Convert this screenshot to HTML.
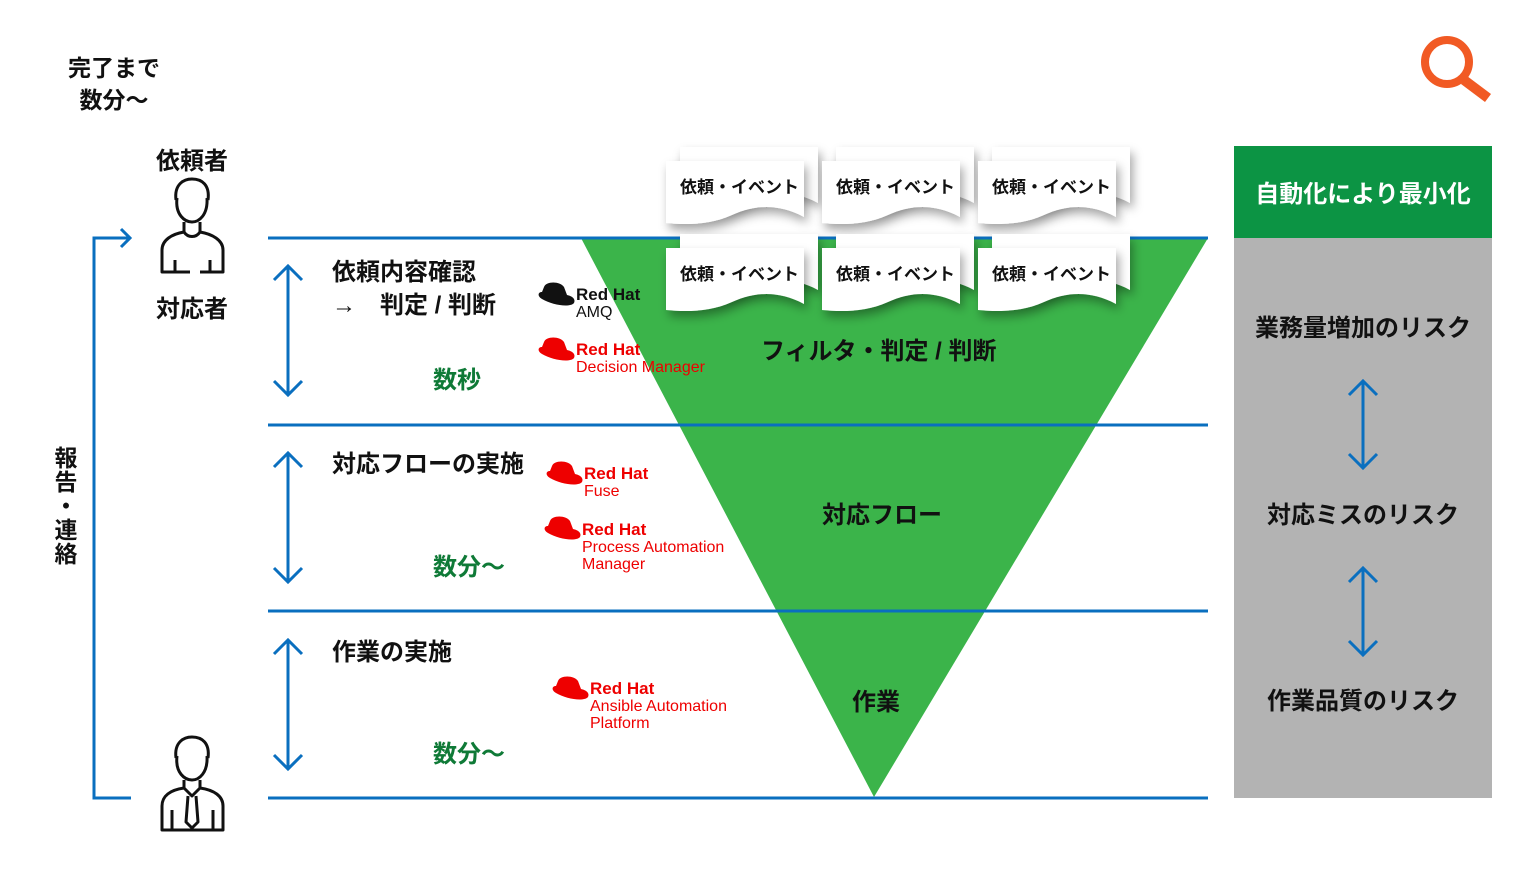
<!DOCTYPE html>
<html><head><meta charset="utf-8"><style>
body{margin:0;width:1522px;height:876px;background:#fff;overflow:hidden;position:relative;font-family:"Liberation Sans","Noto Sans CJK JP",sans-serif}
.t{position:absolute;font-weight:bold;color:#111;white-space:nowrap;font-family:"Liberation Sans","Noto Sans CJK JP",sans-serif}
.g{color:#0f7a37}
.rh{position:absolute;color:#e00;font-size:16px;line-height:17px;white-space:nowrap}
.rh b{font-size:17px}
</style></head><body>
<svg width="1522" height="876" style="position:absolute;left:0;top:0">
<defs>
<filter id="sh" x="-20%" y="-20%" width="150%" height="160%"><feDropShadow dx="3" dy="6" stdDeviation="5" flood-color="#000" flood-opacity="0.35"/></filter>
<g id="doc"><path d="M0,0 H138 V56 C112,42 88,44 66,54 C44,64 20,64 0,62 Z" fill="#fff" filter="url(#sh)"/></g>
<g id="hat"><path d="M6,4 C8,-2 22,-2 26,4 L29,12 C34,13 38,16 36,20 C32,25 14,22 4,16 C-1,13 0,9 4,9 Z"/></g>
</defs>
<rect x="1234" y="146" width="258" height="92" fill="#0c9444"/>
<rect x="1234" y="238" width="258" height="560" fill="#b3b3b3"/>
<polygon points="581,238 1208,238 874,797" fill="#3bb44a"/>
<g stroke="#0a6fbf" stroke-width="3" fill="none">
<line x1="268" y1="238" x2="1208" y2="238"/>
<line x1="268" y1="425" x2="1208" y2="425"/>
<line x1="268" y1="611" x2="1208" y2="611"/>
<line x1="268" y1="798" x2="1208" y2="798"/>
<polyline points="131,798 94,798 94,238 130,238"/>
<polyline points="121,229 130,238 121,247"/>
<line x1="288" y1="266" x2="288" y2="395"/><polyline points="274,280 288,266 302,280"/><polyline points="274,381 288,395 302,381"/>
<line x1="288" y1="453" x2="288" y2="582"/><polyline points="274,467 288,453 302,467"/><polyline points="274,568 288,582 302,568"/>
<line x1="288" y1="640" x2="288" y2="769"/><polyline points="274,654 288,640 302,654"/><polyline points="274,755 288,769 302,755"/>
<line x1="1363" y1="381" x2="1363" y2="468"/><polyline points="1349,395 1363,381 1377,395"/><polyline points="1349,454 1363,468 1377,454"/>
<line x1="1363" y1="568" x2="1363" y2="655"/><polyline points="1349,582 1363,568 1377,582"/><polyline points="1349,641 1363,655 1377,641"/>
</g>
<circle cx="1447" cy="62" r="22" stroke="#f15a24" stroke-width="8" fill="none"/>
<line x1="1464" y1="80" x2="1488" y2="98" stroke="#f15a24" stroke-width="10"/>
<g stroke="#111" stroke-width="3" fill="none" stroke-linejoin="round">
<path d="M176,200 C174,184 184,179 192,179 C202,179 210,185 208,200"/>
<path d="M177,198 C175,215 185,222 192,222 C199,222 208,215 207,198"/>
<path d="M184,222 V232 M200,222 V232"/>
<path d="M184,232 C172,234 162,240 162,250 V272 H190 M200,272 H223 V250 C223,240 212,234 200,232"/>
<path d="M184,232 C188,238 196,238 200,232"/>
<path d="M175,260 V272 M210,260 V272"/>
<path d="M176,758 C174,742 184,737 192,737 C202,737 210,743 208,758"/>
<path d="M177,756 C175,773 185,780 192,780 C199,780 208,773 207,756"/>
<path d="M184,780 V788 M200,780 V788"/>
<path d="M184,788 C170,790 162,796 162,806 V830 H223 V806 C223,796 214,790 200,788"/>
<path d="M184,788 L192,796 L200,788 M188,796 L186,822 L192,828 L198,822 L196,796"/>
<path d="M172,810 V830 M213,810 V830"/>
</g>
<g>
<use href="#doc" x="680" y="147"/><use href="#doc" x="666" y="161"/>
<use href="#doc" x="836" y="147"/><use href="#doc" x="822" y="161"/>
<use href="#doc" x="992" y="147"/><use href="#doc" x="978" y="161"/>
<use href="#doc" x="680" y="234"/><use href="#doc" x="666" y="248"/>
<use href="#doc" x="836" y="234"/><use href="#doc" x="822" y="248"/>
<use href="#doc" x="992" y="234"/><use href="#doc" x="978" y="248"/>
</g>
<g font-family="Liberation Sans,Noto Sans CJK JP,sans-serif" font-weight="bold" font-size="17" fill="#111">
<text x="680" y="193">依頼・イベント</text><text x="836" y="193">依頼・イベント</text><text x="992" y="193">依頼・イベント</text>
<text x="680" y="280">依頼・イベント</text><text x="836" y="280">依頼・イベント</text><text x="992" y="280">依頼・イベント</text>
</g>
<use href="#hat" x="538" y="283" fill="#111"/>
<use href="#hat" x="538" y="338" fill="#e00"/>
<use href="#hat" x="546" y="462" fill="#e00"/>
<use href="#hat" x="544" y="517" fill="#e00"/>
<use href="#hat" x="552" y="677" fill="#e00"/>
</svg>
<div class="t" style="left:68px;top:52px;font-size:23px;line-height:32px;text-align:center">完了まで<br>数分～</div>
<div class="t" style="left:156px;top:141px;font-size:24px">依頼者</div>
<div class="t" style="left:156px;top:289px;font-size:24px">対応者</div>
<div class="t" style="left:54px;top:446px;font-size:23px;width:24px;line-height:24px;text-align:center">報<br>告<br>・<br>連<br>絡</div>
<div class="t" style="left:332px;top:256px;font-size:24px;line-height:33px">依頼内容確認<br>→　判定 / 判断</div>
<div class="t g" style="left:433px;top:360px;font-size:24px">数秒</div>
<div class="t" style="left:332px;top:444px;font-size:24px">対応フローの実施</div>
<div class="t g" style="left:433px;top:547px;font-size:24px">数分～</div>
<div class="t" style="left:332px;top:632px;font-size:24px">作業の実施</div>
<div class="t g" style="left:433px;top:734px;font-size:24px">数分～</div>
<div class="rh" style="left:576px;top:286px;color:#111"><b>Red Hat</b><br>AMQ</div>
<div class="rh" style="left:576px;top:341px"><b>Red Hat</b><br>Decision Manager</div>
<div class="rh" style="left:584px;top:465px"><b>Red Hat</b><br>Fuse</div>
<div class="rh" style="left:582px;top:521px"><b>Red Hat</b><br>Process Automation<br>Manager</div>
<div class="rh" style="left:590px;top:680px"><b>Red Hat</b><br>Ansible Automation<br>Platform</div>
<div class="t" style="left:761px;top:331px;font-size:24px">フィルタ・判定 / 判断</div>
<div class="t" style="left:822px;top:495px;font-size:24px">対応フロー</div>
<div class="t" style="left:852px;top:682px;font-size:24px">作業</div>
<div class="t" style="left:1234px;width:258px;text-align:center;top:174px;font-size:24px;color:#fff">自動化により最小化</div>
<div class="t" style="left:1234px;width:258px;text-align:center;top:308px;font-size:24px">業務量増加のリスク</div>
<div class="t" style="left:1234px;width:258px;text-align:center;top:495px;font-size:24px">対応ミスのリスク</div>
<div class="t" style="left:1234px;width:258px;text-align:center;top:681px;font-size:24px">作業品質のリスク</div>
</body></html>
